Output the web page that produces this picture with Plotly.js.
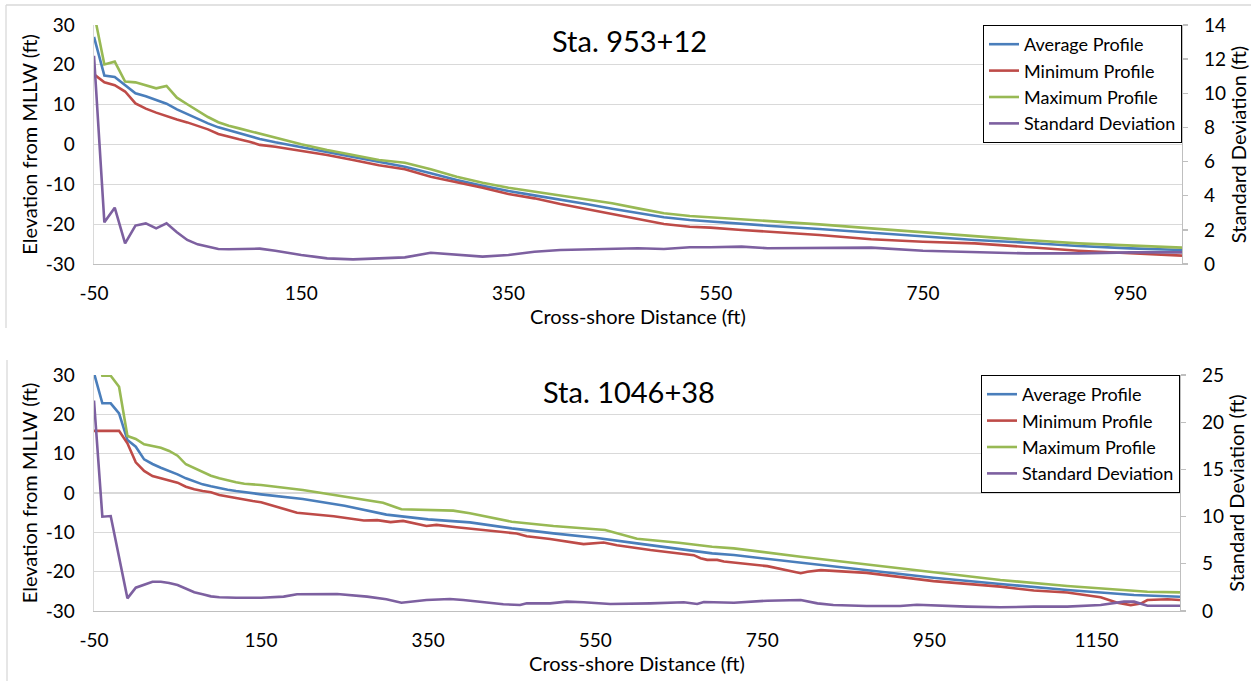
<!DOCTYPE html>
<html>
<head>
<meta charset="utf-8">
<script src="https://cdn.plot.ly/plotly-3.0.1.min.js"></script>
<style>
  html, body { margin: 0; padding: 0; background: #ffffff; }
  #chart { width: 1251px; height: 681px; }
</style>
</head>
<body>
<div id="chart"></div>
<script>
// ---------- Sta. 953+12 (top chart) ----------
const topX = [-50,-40,-30,-20,-10,0,10,20,30,40,50,60,70,80,90,100,110,125,150,175,200,225,250,275,300,325,350,375,400,425,450,475,500,525,545,575,600,650,700,750,800,850,900,950,1000];
const topAvg = [27,17.3,16.95,14.8,12.85,12.1,11.2,10.25,8.8,7.6,6.4,5.3,4.3,3.55,2.9,2.2,1.4,0.55,-0.71,-1.96,-3.22,-4.47,-5.57,-7.24,-8.92,-10.34,-11.68,-12.77,-13.77,-14.94,-16.12,-17.28,-18.28,-18.96,-19.38,-19.96,-20.38,-21.22,-22.14,-23.15,-23.98,-24.65,-25.49,-26.07,-26.5];
const topMin = [17.6,15.6,14.9,13.3,10.3,9.0,8.0,7.1,6.3,5.55,4.7,3.8,2.65,1.9,1.3,0.7,-0.1,-0.55,-1.55,-2.64,-3.89,-5.23,-6.23,-8.07,-9.5,-10.85,-12.43,-13.52,-14.94,-16.2,-17.28,-18.71,-19.96,-20.63,-20.88,-21.46,-21.89,-22.72,-23.8,-24.41,-24.81,-25.66,-26.66,-27.32,-27.9];
const topMax = [33,20.1,20.8,15.8,15.6,14.9,14.1,14.7,11.75,10.1,8.4,6.9,5.6,4.7,4.05,3.4,2.7,1.63,0.04,-1.38,-2.71,-3.89,-4.6,-6.23,-8.07,-9.6,-10.85,-11.85,-12.68,-13.69,-14.77,-16.03,-17.28,-17.95,-18.28,-18.79,-19.21,-20.04,-21.05,-22.05,-22.98,-23.98,-24.81,-25.4,-25.9];
const topSd = [12.2,2.44,3.3,1.21,2.25,2.38,2.09,2.38,1.86,1.41,1.15,1.01,0.88,0.86,0.86,0.9,0.9,0.78,0.53,0.33,0.27,0.33,0.39,0.66,0.53,0.43,0.53,0.72,0.82,0.86,0.88,0.92,0.88,0.98,0.98,1.02,0.92,0.96,0.96,0.78,0.72,0.62,0.62,0.68,0.68];
const topXTicks = [-50,150,350,550,750,950];
const topSdTicks = [0,2,4,6,8,10,12,14];

// ---------- Sta. 1046+38 (bottom chart) ----------
const botMaxX = [-50,-40,-30,-20,-10,0,10,20,30,40,50,60,70,80,90,100,110,120,130,140,150,200,250,296,318,350,380,400,450,500,550,562,600,650,690,716,796,875,955,1035,1115,1195,1211,1250];
const botMax = [40,29.8,29.8,27,14.5,13.73,12.38,12.03,11.5,10.68,9.49,7.3,6.28,5.27,4.4,3.73,3.13,2.71,2.37,2.2,2.03,0.76,-0.94,-2.46,-4.15,-4.24,-4.49,-5.17,-7.3,-8.4,-9.08,-9.41,-11.62,-12.64,-13.66,-14.07,-16.2,-18.14,-20.26,-22.12,-23.65,-24.92,-25.09,-25.26];
const botAvgX = [-50,-40,-30,-20,-10,0,10,20,30,40,50,60,70,80,90,100,110,120,130,140,150,200,250,300,350,400,450,500,550,600,650,690,716,796,875,955,1035,1115,1195,1250];
const botAvg = [30.5,22.8,22.8,20.26,13.47,11.77,8.55,7.37,6.43,5.6,4.74,3.73,2.88,2.2,1.7,1.19,0.85,0.51,0.17,-0.08,-0.34,-1.53,-3.23,-5.5,-6.7,-7.46,-8.99,-10.26,-11.36,-12.8,-14.24,-15.34,-15.77,-17.72,-19.58,-21.53,-23.14,-24.67,-25.94,-26.36];
const botMinX = [-50,-40,-30,-20,-10,0,10,20,30,40,50,60,70,80,90,100,110,120,130,140,150,181,193,237,262,273,289,305,320,348,360,384,456,468,496,536,560,576,616,668,676,684,696,704,756,780,796,804,820,875,915,955,1035,1075,1115,1155,1175,1191,1203,1211,1235,1250];
const botMin = [15.8,15.8,15.8,15.8,12.63,7.8,5.6,4.32,3.73,3.13,2.62,1.61,0.94,0.51,0.17,-0.51,-0.94,-1.36,-1.7,-2.04,-2.37,-4.3,-5.0,-5.9,-6.6,-7.0,-6.9,-7.4,-7.1,-8.4,-8.1,-8.7,-10.3,-11.0,-11.7,-13.0,-12.6,-13.3,-14.5,-15.8,-16.6,-17.0,-17.0,-17.4,-18.6,-19.6,-20.4,-20.0,-19.6,-20.3,-21.3,-22.4,-23.8,-24.8,-25.3,-26.5,-27.9,-28.5,-28.1,-27.2,-27.0,-27.2];
const botSdX = [-50,-40,-30,-20,-10,0,10,20,30,40,50,60,70,80,90,100,110,120,130,140,150,177,193,241,277,300,318,348,376,392,440,460,468,496,516,536,568,616,656,672,680,716,756,796,816,835,875,915,935,995,1035,1075,1115,1155,1183,1195,1211,1250];
const botSd = [22.3,9.99,10.06,5.75,1.34,2.47,2.75,3.1,3.1,2.97,2.75,2.33,1.98,1.77,1.55,1.45,1.41,1.41,1.41,1.41,1.41,1.52,1.77,1.8,1.52,1.24,0.88,1.17,1.27,1.17,0.71,0.64,0.81,0.81,0.99,0.92,0.74,0.81,0.92,0.74,0.95,0.88,1.09,1.17,0.81,0.64,0.53,0.53,0.67,0.46,0.39,0.46,0.46,0.64,0.99,0.99,0.56,0.56];
const botXTicks = [-50,150,350,550,750,950,1150];
const botSdTicks = [0,5,10,15,20,25];

const elevTicks = [-30,-20,-10,0,10,20,30];

const seriesNames = ['Average Profile', 'Minimum Profile', 'Maximum Profile', 'Standard Deviation'];
const seriesColors = ['#4A7EBB', '#BE4B48', '#98B954', '#7D60A0'];
const chartTitles = ['Sta. 953+12', 'Sta. 1046+38'];

const FONT = 'Lato, "Open Sans", sans-serif';
const LW = 2.6;

// plain hyphen-minus labels like the original
const lab = v => String(v);

function tr(x, y, i, xa, ya, lg) {
  return {
    type: 'scatter', mode: 'lines', x: x, y: y, name: seriesNames[i],
    xaxis: xa, yaxis: ya, legend: lg,
    line: { color: seriesColors[i], width: LW },
    hoverinfo: 'x+y+name'
  };
}

const data = [
  tr(topX, topAvg, 0, 'x', 'y', 'legend'),
  tr(topX, topMin, 1, 'x', 'y', 'legend'),
  tr(topX, topMax, 2, 'x', 'y', 'legend'),
  tr(topX, topSd, 3, 'x', 'y2', 'legend'),
  tr(botAvgX, botAvg, 0, 'x2', 'y3', 'legend2'),
  tr(botMinX, botMin, 1, 'x2', 'y3', 'legend2'),
  tr(botMaxX, botMax, 2, 'x2', 'y3', 'legend2'),
  tr(botSdX, botSd, 3, 'x2', 'y4', 'legend2')
];

const tickFont = { family: FONT, size: 19, color: '#000' };
const titleFont = { family: FONT, size: 20, color: '#000' };
const GRID = '#d9d9d9';
const AXL = '#bfbfbf';

function xAxis(range, domain, anchor, ticks) {
  return {
    domain: domain, anchor: anchor, range: range,
    tickmode: 'array', tickvals: ticks, ticktext: ticks.map(lab),
    showgrid: false, zeroline: false, showline: true, linecolor: AXL, linewidth: 1.3,
    ticks: '', tickfont: tickFont, ticklabelstandoff: 12,
    title: { text: 'Cross-shore Distance (ft)', font: titleFont, standoff: 3 }
  };
}
function yLeft(domain, anchor) {
  return {
    domain: domain, anchor: anchor, range: [-30, 30],
    tickmode: 'array', tickvals: elevTicks, ticktext: elevTicks.map(lab),
    showgrid: true, gridcolor: GRID, gridwidth: 1.3, zeroline: false,
    showline: true, linecolor: GRID, linewidth: 1.3,
    ticks: '', tickfont: tickFont, ticklabelstandoff: 14,
    title: { text: 'Elevation from MLLW (ft)', font: titleFont, standoff: 2 }
  };
}
function yRight(range, ticks, over, anchor) {
  return {
    overlaying: over, anchor: anchor, side: 'right', range: range,
    tickmode: 'array', tickvals: ticks, ticktext: ticks.map(lab),
    showgrid: false, zeroline: false, showline: true, linecolor: AXL, linewidth: 1.3,
    ticks: 'outside', ticklen: 5, tickcolor: AXL, tickwidth: 1.3,
    tickfont: tickFont, ticklabelstandoff: 12,
    title: { text: 'Standard Deviation (ft)', font: titleFont, standoff: 6 }
  };
}

const W = 1251, H = 681;
const mL = 94, mR = W - 1182, mT = 25, mB = H - 611;
const plotH = H - mT - mB;
const plotW = W - mL - mR;
const topDom = [(611 - 264) / plotH, 1];
const botDom = [0, (611 - 375) / plotH];

const legendBase = {
  bgcolor: '#ffffff', bordercolor: '#000000', borderwidth: 1,
  font: { family: FONT, size: 18, color: '#000' },
  xanchor: 'right', yanchor: 'top', tracegroupgap: 0, itemwidth: 30
};

const layout = {
  width: W, height: H,
  margin: { l: mL, r: mR, t: mT, b: mB, pad: 0 },
  paper_bgcolor: '#ffffff', plot_bgcolor: '#ffffff',
  showlegend: true,
  xaxis: xAxis([-50, 1000], [0, 1], 'y', topXTicks),
  yaxis: yLeft(topDom, 'x'),
  yaxis2: yRight([0, 14], topSdTicks, 'y', 'x'),
  xaxis2: xAxis([-50, 1250], [0, (1180 - 94) / plotW], 'y3', botXTicks),
  yaxis3: yLeft(botDom, 'x2'),
  yaxis4: yRight([0, 25], botSdTicks, 'y3', 'x2'),
  legend: Object.assign({}, legendBase, { x: 1, y: 1 }),
  legend2: Object.assign({}, legendBase, { x: (1180 - 94) / plotW, y: botDom[1] }),
  annotations: [
    { text: chartTitles[0], xref: 'paper', yref: 'paper', x: (629 - mL) / plotW, y: (611 - 40) / plotH,
      xanchor: 'center', yanchor: 'middle', showarrow: false, font: { family: FONT, size: 29, color: '#000' } },
    { text: chartTitles[1], xref: 'paper', yref: 'paper', x: (629 - mL) / plotW, y: (611 - 391) / plotH,
      xanchor: 'center', yanchor: 'middle', showarrow: false, font: { family: FONT, size: 29, color: '#000' } }
  ],
  shapes: [
    { type: 'line', xref: 'paper', yref: 'paper', x0: (6 - mL) / plotW, x1: (1260 - mL) / plotW, y0: (611 - 5) / plotH, y1: (611 - 5) / plotH, line: { color: GRID, width: 1.3 } },
    { type: 'line', xref: 'paper', yref: 'paper', x0: (6 - mL) / plotW, x1: (6 - mL) / plotW, y0: (611 - 5) / plotH, y1: (611 - 328) / plotH, line: { color: GRID, width: 1.3 } },
    { type: 'line', xref: 'paper', yref: 'paper', x0: (7 - mL) / plotW, x1: (7 - mL) / plotW, y0: (611 - 360) / plotH, y1: (611 - 690) / plotH, line: { color: GRID, width: 1.3 } }
  ]
};

Plotly.newPlot('chart', data, layout, { displayModeBar: false, staticPlot: true });
</script>
</body>
</html>
